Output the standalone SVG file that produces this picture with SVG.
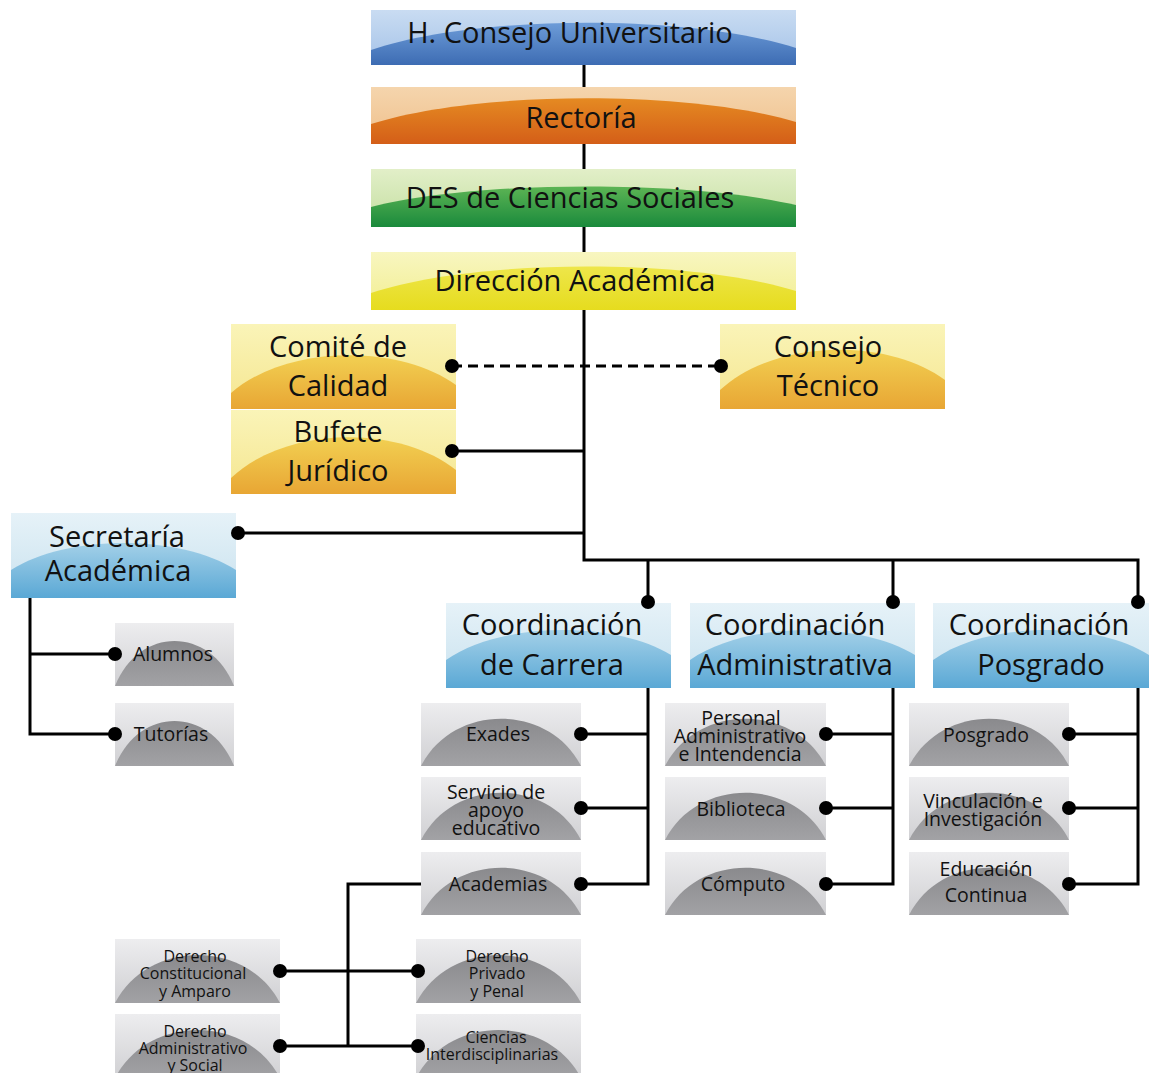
<svg xmlns="http://www.w3.org/2000/svg" width="1149" height="1073" viewBox="0 0 1149 1073">
<defs>
<linearGradient id="blueL" x1="0" y1="0" x2="0" y2="1"><stop offset="0" stop-color="#c9dcf2"/><stop offset="1" stop-color="#a4c2e8"/></linearGradient>
<linearGradient id="blueD" x1="0" y1="0" x2="0" y2="1"><stop offset="0" stop-color="#6d9cd8"/><stop offset="1" stop-color="#3d6cb3"/></linearGradient>
<linearGradient id="orL" x1="0" y1="0" x2="0" y2="1"><stop offset="0" stop-color="#f5d5ad"/><stop offset="1" stop-color="#efbf8a"/></linearGradient>
<linearGradient id="orD" x1="0" y1="0" x2="0" y2="1"><stop offset="0" stop-color="#e58a22"/><stop offset="1" stop-color="#d45e18"/></linearGradient>
<linearGradient id="grL" x1="0" y1="0" x2="0" y2="1"><stop offset="0" stop-color="#e2efc8"/><stop offset="1" stop-color="#c3dea0"/></linearGradient>
<linearGradient id="grD" x1="0" y1="0" x2="0" y2="1"><stop offset="0" stop-color="#5cb454"/><stop offset="1" stop-color="#1a8a3c"/></linearGradient>
<linearGradient id="yeL" x1="0" y1="0" x2="0" y2="1"><stop offset="0" stop-color="#f8f6c0"/><stop offset="1" stop-color="#f2ee90"/></linearGradient>
<linearGradient id="yeD" x1="0" y1="0" x2="0" y2="1"><stop offset="0" stop-color="#eee64a"/><stop offset="1" stop-color="#e6dc1e"/></linearGradient>
<linearGradient id="goL" x1="0" y1="0" x2="0" y2="1"><stop offset="0" stop-color="#faf4b8"/><stop offset="1" stop-color="#f5e690"/></linearGradient>
<linearGradient id="goD" x1="0" y1="0" x2="0" y2="1"><stop offset="0" stop-color="#f2d052"/><stop offset="1" stop-color="#e8a634"/></linearGradient>
<linearGradient id="skL" x1="0" y1="0" x2="0" y2="1"><stop offset="0" stop-color="#e6f2f8"/><stop offset="1" stop-color="#c9e2ef"/></linearGradient>
<linearGradient id="skD" x1="0" y1="0" x2="0" y2="1"><stop offset="0" stop-color="#a3d0e8"/><stop offset="1" stop-color="#5aa8d5"/></linearGradient>
<linearGradient id="gyL" x1="0" y1="0" x2="0" y2="1"><stop offset="0" stop-color="#ededef"/><stop offset="1" stop-color="#d0d0d3"/></linearGradient>
<linearGradient id="gyD" x1="0" y1="0" x2="0" y2="1"><stop offset="0" stop-color="#8a8a8d"/><stop offset="1" stop-color="#a2a2a5"/></linearGradient>
</defs>
<style>
text{font-family:"Open Sans","DejaVu Sans",sans-serif;fill:#111;text-anchor:middle}
.big{font-size:29px}
.mid{font-size:19.5px}
.sm{font-size:16px}
.ln{fill:none;stroke:#000;stroke-width:3}
.dash{stroke-dasharray:10 6}
.dot{fill:#000}
</style>

<g id="n-consejo-universitario">
<rect x="371" y="10" width="425" height="55" fill="url(#blueL)"/>
<path d="M371,50 C477,14 690,14 796,48 L796,65 L371,65 Z" fill="url(#blueD)"/>
<text class="big" x="570" y="43">H. Consejo Universitario</text>
</g>
<g id="n-rectoria">
<rect x="371" y="87" width="425" height="57" fill="url(#orL)"/>
<path d="M371,124 C477,90 690,90 796,122 L796,144 L371,144 Z" fill="url(#orD)"/>
<text class="big" x="581" y="128">Rectoría</text>
</g>
<g id="n-des">
<rect x="371" y="169" width="425" height="58" fill="url(#grL)"/>
<path d="M371,207 C477,180 690,180 796,205 L796,227 L371,227 Z" fill="url(#grD)"/>
<text class="big" x="570" y="208">DES de Ciencias Sociales</text>
</g>
<g id="n-direccion">
<rect x="371" y="252" width="425" height="58" fill="url(#yeL)"/>
<path d="M371,293 C477,258 690,258 796,291 L796,310 L371,310 Z" fill="url(#yeD)"/>
<text class="big" x="575" y="291">Dirección Académica</text>
</g>
<g id="n-comite">
<rect x="231" y="324" width="225" height="85" fill="url(#goL)"/>
<path d="M231,393 C287,344 400,344 456,385 L456,409 L231,409 Z" fill="url(#goD)"/>
<text class="big" x="338" y="357">Comité de</text>
<text class="big" x="338" y="396">Calidad</text>
</g>
<g id="n-bufete">
<rect x="231" y="410" width="225" height="84" fill="url(#goL)"/>
<path d="M231,478 C287,425 400,425 456,470 L456,494 L231,494 Z" fill="url(#goD)"/>
<text class="big" x="338" y="442">Bufete</text>
<text class="big" x="338" y="481">Jurídico</text>
</g>
<g id="n-consejo-tecnico">
<rect x="720" y="324" width="225" height="85" fill="url(#goL)"/>
<path d="M720,390 C776,338 889,338 945,380 L945,409 L720,409 Z" fill="url(#goD)"/>
<text class="big" x="828" y="357">Consejo</text>
<text class="big" x="828" y="396">Técnico</text>
</g>
<g id="n-secretaria">
<rect x="11" y="513" width="225" height="85" fill="url(#skL)"/>
<path d="M11,570 C67,534 180,534 236,570 L236,598 L11,598 Z" fill="url(#skD)"/>
<text class="big" x="117" y="547">Secretaría</text>
<text class="big" x="118" y="581">Académica</text>
</g>
<g id="n-coord-carrera">
<rect x="446" y="603" width="225" height="85" fill="url(#skL)"/>
<path d="M446,660 C502,621 615,621 671,655 L671,688 L446,688 Z" fill="url(#skD)"/>
<text class="big" x="552" y="635">Coordinación</text>
<text class="big" x="552" y="675">de Carrera</text>
</g>
<g id="n-coord-admin">
<rect x="690" y="603" width="225" height="85" fill="url(#skL)"/>
<path d="M690,660 C746,621 859,621 915,655 L915,688 L690,688 Z" fill="url(#skD)"/>
<text class="big" x="795" y="635">Coordinación</text>
<text class="big" x="795" y="675">Administrativa</text>
</g>
<g id="n-coord-posgrado">
<rect x="933" y="603" width="216" height="85" fill="url(#skL)"/>
<path d="M933,660 C987,621 1095,621 1149,655 L1149,688 L933,688 Z" fill="url(#skD)"/>
<text class="big" x="1039" y="635">Coordinación</text>
<text class="big" x="1041" y="675">Posgrado</text>
</g>

<g id="n-alumnos">
<rect x="115" y="623" width="119" height="63" fill="url(#gyL)"/>
<path d="M115,686 C139,626 210,626 234,686 Z" fill="url(#gyD)"/>
<text class="mid" x="173" y="661">Alumnos</text>
</g>
<g id="n-tutorias">
<rect x="115" y="703" width="119" height="63" fill="url(#gyL)"/>
<path d="M115,766 C139,706 210,706 234,766 Z" fill="url(#gyD)"/>
<text class="mid" x="171" y="741">Tutorías</text>
</g>
<g id="n-exades">
<rect x="421" y="703" width="160" height="63" fill="url(#gyL)"/>
<path d="M421,766 C453,703 549,703 581,766 Z" fill="url(#gyD)"/>
<text class="mid" x="498" y="741">Exades</text>
</g>
<g id="n-servicio">
<rect x="421" y="777" width="160" height="63" fill="url(#gyL)"/>
<path d="M421,840 C453,777 549,777 581,840 Z" fill="url(#gyD)"/>
<text class="mid" x="496" y="799">Servicio de</text>
<text class="mid" x="496" y="817">apoyo</text>
<text class="mid" x="496" y="835">educativo</text>
</g>
<g id="n-academias">
<rect x="421" y="852" width="160" height="63" fill="url(#gyL)"/>
<path d="M421,915 C453,852 549,852 581,915 Z" fill="url(#gyD)"/>
<text class="mid" x="498" y="891">Academias</text>
</g>
<g id="n-personal">
<rect x="665" y="703" width="161" height="63" fill="url(#gyL)"/>
<path d="M665,766 C697,703 794,703 826,766 Z" fill="url(#gyD)"/>
<text class="mid" x="741" y="725">Personal</text>
<text class="mid" x="740" y="743">Administrativo</text>
<text class="mid" x="740" y="761">e Intendencia</text>
</g>
<g id="n-biblioteca">
<rect x="665" y="777" width="161" height="63" fill="url(#gyL)"/>
<path d="M665,840 C697,777 794,777 826,840 Z" fill="url(#gyD)"/>
<text class="mid" x="741" y="816">Biblioteca</text>
</g>
<g id="n-computo">
<rect x="665" y="852" width="161" height="63" fill="url(#gyL)"/>
<path d="M665,915 C697,852 794,852 826,915 Z" fill="url(#gyD)"/>
<text class="mid" x="743" y="891">Cómputo</text>
</g>
<g id="n-posgrado">
<rect x="909" y="703" width="160" height="63" fill="url(#gyL)"/>
<path d="M909,766 C941,703 1037,703 1069,766 Z" fill="url(#gyD)"/>
<text class="mid" x="986" y="742">Posgrado</text>
</g>
<g id="n-vinculacion">
<rect x="909" y="777" width="160" height="63" fill="url(#gyL)"/>
<path d="M909,840 C941,777 1037,777 1069,840 Z" fill="url(#gyD)"/>
<text class="mid" x="983" y="808">Vinculación e</text>
<text class="mid" x="983" y="826">Investigación</text>
</g>
<g id="n-educacion">
<rect x="909" y="852" width="160" height="63" fill="url(#gyL)"/>
<path d="M909,915 C941,852 1037,852 1069,915 Z" fill="url(#gyD)"/>
<text class="mid" x="986" y="876">Educación</text>
<text class="mid" x="986" y="902">Continua</text>
</g>
<g id="n-der-constitucional">
<rect x="115" y="939" width="165" height="64" fill="url(#gyL)"/>
<path d="M115,1003 C148,939 247,939 280,1003 Z" fill="url(#gyD)"/>
<text class="sm" x="195" y="962">Derecho</text>
<text class="sm" x="193" y="979">Constitucional</text>
<text class="sm" x="195" y="997">y Amparo</text>
</g>
<g id="n-der-administrativo">
<rect x="115" y="1014" width="165" height="64" fill="url(#gyL)"/>
<path d="M115,1078 C148,1014 247,1014 280,1078 Z" fill="url(#gyD)"/>
<text class="sm" x="195" y="1037">Derecho</text>
<text class="sm" x="193" y="1054">Administrativo</text>
<text class="sm" x="195" y="1071">y Social</text>
</g>
<g id="n-der-privado">
<rect x="416" y="939" width="165" height="64" fill="url(#gyL)"/>
<path d="M416,1003 C449,939 548,939 581,1003 Z" fill="url(#gyD)"/>
<text class="sm" x="497" y="962">Derecho</text>
<text class="sm" x="497" y="979">Privado</text>
<text class="sm" x="497" y="997">y Penal</text>
</g>
<g id="n-ciencias">
<rect x="416" y="1014" width="165" height="64" fill="url(#gyL)"/>
<path d="M416,1078 C449,1014 548,1014 581,1078 Z" fill="url(#gyD)"/>
<text class="sm" x="496" y="1043">Ciencias</text>
<text class="sm" x="492" y="1060">Interdisciplinarias</text>
</g>

<g id="connectors">
<path class="ln" d="M584,65 V87 M584,144 V169 M584,227 V252 M584,310 V560 H1138 V602 M648,560 V602 M893,560 V602"/>
<path class="ln dash" d="M452,366 H721"/>
<path class="ln" d="M452,451 H584 M238,533 H584"/>
<path class="ln" d="M30,598 V734 H115 M30,654 H115"/>
<path class="ln" d="M648,688 V884 H581 M648,734 H581 M648,808 H581"/>
<path class="ln" d="M893,688 V884 H826 M893,734 H826 M893,808 H826"/>
<path class="ln" d="M1138,688 V884 H1069 M1138,734 H1069 M1138,808 H1069"/>
<path class="ln" d="M421,884 H348 V1046 M280,971 H418 M280,1046 H418"/>
<g class="dot">
<circle cx="452" cy="366" r="7"/><circle cx="721" cy="366" r="7"/><circle cx="452" cy="451" r="7"/>
<circle cx="238" cy="533" r="7"/>
<circle cx="648" cy="602" r="7"/><circle cx="893" cy="602" r="7"/><circle cx="1138" cy="602" r="7"/>
<circle cx="115" cy="654" r="7"/><circle cx="115" cy="734" r="7"/>
<circle cx="581" cy="734" r="7"/><circle cx="581" cy="808" r="7"/><circle cx="581" cy="884" r="7"/>
<circle cx="826" cy="734" r="7"/><circle cx="826" cy="808" r="7"/><circle cx="826" cy="884" r="7"/>
<circle cx="1069" cy="734" r="7"/><circle cx="1069" cy="808" r="7"/><circle cx="1069" cy="884" r="7"/>
<circle cx="280" cy="971" r="7"/><circle cx="418" cy="971" r="7"/>
<circle cx="280" cy="1046" r="7"/><circle cx="418" cy="1046" r="7"/>
</g>
</g>
</svg>
